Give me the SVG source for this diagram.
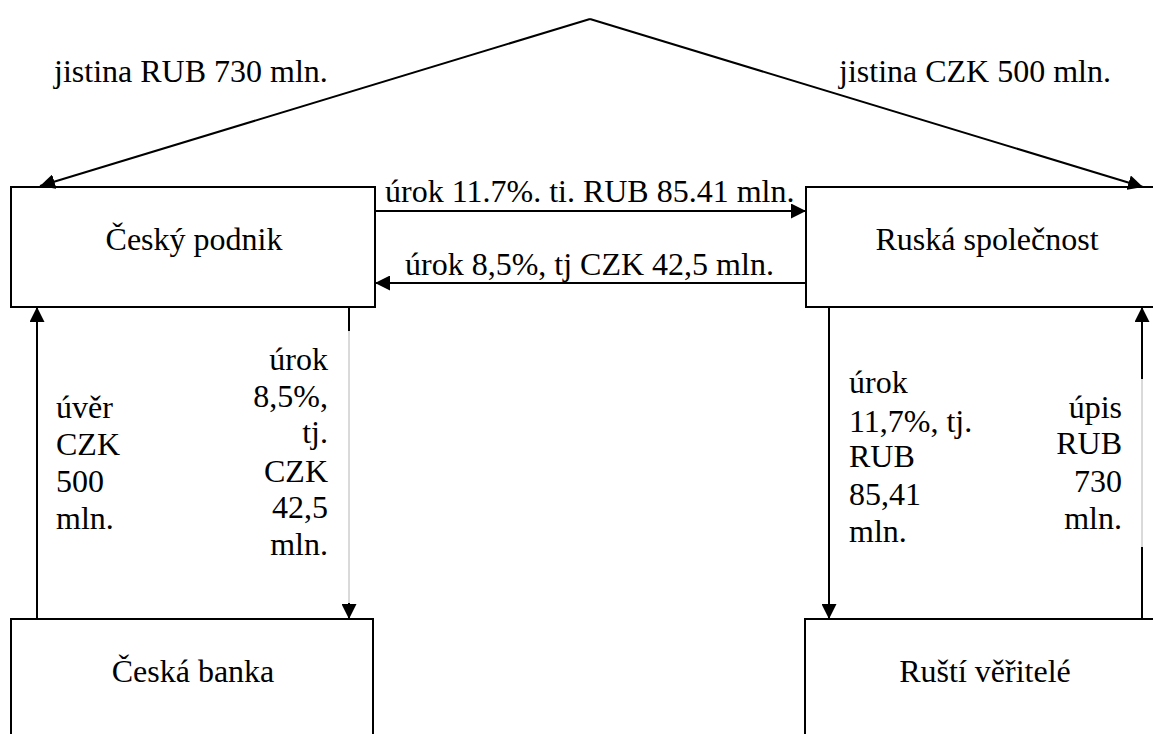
<svg xmlns="http://www.w3.org/2000/svg" width="1153" height="734" viewBox="0 0 1153 734" font-family="'Liberation Serif', 'Times New Roman', Tinos, 'DejaVu Serif', serif">
<style>
.box{fill:#fff;stroke:#000;stroke-width:2}
.ln{fill:none;stroke:#000;stroke-width:2}
.thin{fill:none;stroke:#b4b4b4;stroke-width:1}
text{font-family:'Liberation Serif','Times New Roman',Tinos,'DejaVu Serif',serif;font-size:32px;fill:#000}
.mid{text-anchor:middle}
.end{text-anchor:end}
</style>
<defs>
<marker id="ah" markerUnits="userSpaceOnUse" markerWidth="15" markerHeight="15" refX="15" refY="7.5" orient="auto" viewBox="0 0 15 15">
<path d="M0,0 L15,7.5 L0,15 z" fill="#000"/>
</marker>
</defs>
<rect width="1153" height="734" fill="#fff"/>
<g id="node-cesky-podnik">
<rect class="box" x="11" y="187" width="364" height="120"/>
<text class="mid" x="194" y="250">Český podnik</text>
</g>
<g id="node-ruska-spolecnost">
<rect class="box" x="806" y="187" width="362" height="120"/>
<text class="mid" x="987" y="250">Ruská společnost</text>
</g>
<g id="node-ceska-banka">
<rect class="box" x="11" y="619" width="362" height="130"/>
<text class="mid" x="193" y="682">Česká banka</text>
</g>
<g id="node-rusti-veritele">
<rect class="box" x="805" y="619" width="362" height="130"/>
<text class="mid" x="985" y="682">Ruští věřitelé</text>
</g>
<g id="connectors">
<path class="ln" d="M590,19 L40,186" marker-end="url(#ah)"/>
<path class="ln" d="M590,19 L1143,187" marker-end="url(#ah)"/>
<path class="ln" d="M375,211 L806,211" marker-end="url(#ah)"/>
<path class="ln" d="M806,283 L375,283" marker-end="url(#ah)"/>
<path class="ln" d="M37,619 L37,307" marker-end="url(#ah)"/>
<path class="ln" d="M349,307 L349,331"/>
<path class="thin" d="M349,331 L349,604"/>
<path class="ln" d="M349,603 L349,619" marker-end="url(#ah)"/>
<path class="ln" d="M829,307 L829,619" marker-end="url(#ah)"/>
<path class="ln" d="M1142,619 L1142,547"/>
<path class="thin" d="M1142,547 L1142,378"/>
<path class="ln" d="M1142,379 L1142,307" marker-end="url(#ah)"/>
</g>
<g id="labels">
<text x="54" y="82">jistina RUB 730 mln.</text>
<text x="839" y="82">jistina CZK 500 mln.</text>
<text x="385" y="202">úrok 11.7%. ti. RUB 85.41 mln.</text>
<text x="405" y="275">úrok 8,5%, tj CZK 42,5 mln.</text>
<text x="56" y="418">úvěr</text>
<text x="56" y="455">CZK</text>
<text x="56" y="492">500</text>
<text x="56" y="529">mln.</text>
<text class="end" x="328" y="370">úrok</text>
<text class="end" x="328" y="407">8,5%,</text>
<text class="end" x="328" y="443">tj.</text>
<text class="end" x="328" y="482">CZK</text>
<text class="end" x="328" y="518">42,5</text>
<text class="end" x="328" y="555">mln.</text>
<text x="849" y="393">úrok</text>
<text x="849" y="432">11,7%, tj.</text>
<text x="849" y="467">RUB</text>
<text x="849" y="505">85,41</text>
<text x="849" y="542">mln.</text>
<text class="end" x="1122" y="418">úpis</text>
<text class="end" x="1122" y="454">RUB</text>
<text class="end" x="1122" y="492">730</text>
<text class="end" x="1122" y="529">mln.</text>
</g>
</svg>
